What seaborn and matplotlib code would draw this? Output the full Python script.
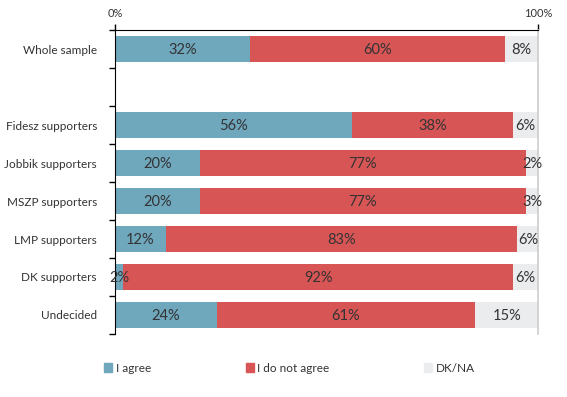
import numpy as np
import pandas as pd
import seaborn as sns
import matplotlib.pyplot as plt
from matplotlib.patches import Patch
from matplotlib.ticker import FixedLocator

sns.set_style("white")
plt.rcParams['font.family'] = ['Lato', 'DejaVu Sans']

# data
groups = ["Whole sample", "Fidesz supporters", "Jobbik supporters", "MSZP supporters",
          "LMP supporters", "DK supporters", "Undecided"]
agree = [32, 56, 20, 20, 12, 2, 24]
disagree = [60, 38, 77, 77, 83, 92, 61]
dkna = [8, 6, 2, 3, 6, 6, 15]
# empty row between the whole sample and the party groups
order = ["Whole sample", " ", "Fidesz supporters", "Jobbik supporters", "MSZP supporters",
         "LMP supporters", "DK supporters", "Undecided"]

c_agree = "#6fa7bd"
c_dis = "#d85556"
c_dk = "#ebecee"
txt = "#333333"

df = pd.DataFrame({"group": groups, "agree": agree, "disagree": disagree, "dkna": dkna})
df["cum2"] = df["agree"] + df["disagree"]
df["full"] = 100  # remainder shown as DK/NA up to 100%

fig = plt.figure(figsize=(5.67, 3.97), dpi=100)
ax = fig.add_axes([0.2028, 0.1587, 0.7468, 0.7657])

# stacked bars: draw cumulative totals from back to front
for col, c in [("full", c_dk), ("cum2", c_dis), ("agree", c_agree)]:
    sns.barplot(data=df, y="group", x=col, order=order, color=c, saturation=1,
                width=0.66, orient="h", ax=ax, linewidth=0)

# value labels centered in each segment
for _, r in df.iterrows():
    y = order.index(r["group"])
    segs = [(0, r["agree"]), (r["agree"], r["disagree"]), (r["cum2"], 100 - r["cum2"])]
    for (start, w), v in zip(segs, [r["agree"], r["disagree"], r["dkna"]]):
        ax.text(start + w / 2, y + 0.03, f"{v}%", ha="center", va="center",
                fontsize=10.5, color=txt)

ax.set_xlim(0, 100)
ax.set_ylim(len(order) - 0.5, -0.5)
ax.set_xlabel("")
ax.set_ylabel("")

# top axis with 0% and 100%
ax.xaxis.tick_top()
ax.set_xticks([0, 100])
ax.set_xticklabels(["0%", "100%"], fontsize=8, color=txt)
ax.tick_params(axis="x", length=4, width=1, color="black", pad=4)

# category labels, ticks between categories
ax.set_yticks(range(len(order)))
ax.set_yticklabels(order, fontsize=8.5, color=txt)
ax.yaxis.set_minor_locator(FixedLocator(np.arange(-0.5, len(order), 1)))
ax.tick_params(axis="y", which="major", length=0, pad=13)
ax.tick_params(axis="y", which="minor", length=4, width=1, color="black", left=True)

ax.spines["bottom"].set_visible(False)
ax.spines["top"].set_color("black")
ax.spines["left"].set_color("black")
ax.spines["right"].set_color("#cccccc")
ax.spines["right"].set_linewidth(1.2)

handles = [Patch(color=c_agree), Patch(color=c_dis), Patch(color=c_dk)]
fig.legend(handles, ["I agree", "I do not agree", "DK/NA"], loc="center left",
           bbox_to_anchor=(0.165, 0.073), ncol=3, frameon=False, fontsize=8.5,
           handlelength=0.7, handleheight=0.7, handletextpad=0.3, columnspacing=8.0,
           labelcolor=txt)

fig.savefig("out.png", dpi=100)
